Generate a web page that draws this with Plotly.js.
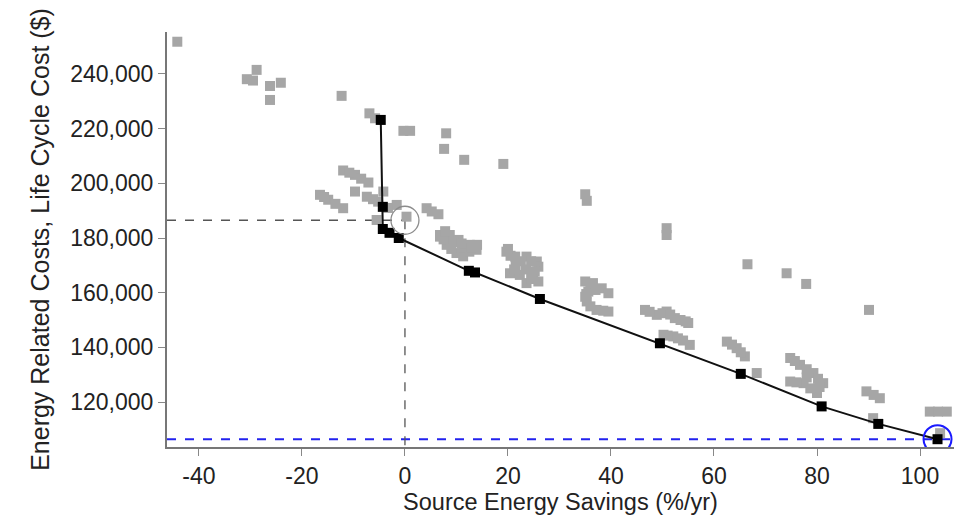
<!DOCTYPE html>
<html>
<head>
<meta charset="utf-8">
<script src="https://cdn.plot.ly/plotly-3.0.1.min.js"></script>
<style>html,body{margin:0;padding:0;background:#fff;}#chart{width:954px;height:523px;}</style>
</head>
<body>
<div id="chart"></div>
<script>
// All design alternatives (gray squares)
const altSavings = [-44.2,-30.7,-28.8,-29.5,-26.2,-24.1,-26.2,-12.3,-6.9,-5.8,-0.3,1.0,8.0,7.6,11.5,19.1,35.0,35.3,50.8,50.8,66.5,74.1,77.9,90.1,
  4.2,6.5,0.3,-12.0,-9.7,-7.1,-16.5,-14.9,-12.0,-13.5,-9.7,-7.4,-5.2,-4.2,-1.6,5.2,-5.5,-3.3,6.8,-10.8,-8.5,-15.7,-6.2,
  6.8,8.7,10.4,12.6,13.9,8.1,10.0,11.3,14.0,7.5,9.5,11.5,12.5,9.0,11.0,13.0,7.8,
  19.7,21.4,23.6,25.6,20.4,22.3,24.9,25.9,23.6,25.9,21.5,20.5,22.5,24.5,21.2,23.5,25.2,24.5,20.0,
  35.0,35.6,38.2,39.5,35.3,37.2,39.5,35.0,36.0,37.0,35.2,36.0,38.5,36.5,
  46.6,48.9,50.8,52.4,55.0,52.1,55.3,50.2,54.0,47.5,50.0,51.5,53.5,54.5,53.0,51.0,
  62.5,64.4,66.0,68.3,63.5,65.2,
  74.8,76.7,79.3,81.2,74.8,77.4,80.0,78.0,75.7,78.0,80.2,76.0,78.7,80.5,
  89.6,92.2,90.9,91.0,
  101.9,105.2,103.9,103.5];
const altCost = [251800,238100,241500,237600,235600,236800,230500,232000,225600,223800,219200,219200,218300,212600,208600,207100,196000,193600,183600,181100,170400,167100,163200,153700,
  190900,188700,187800,204700,203100,200300,195800,194000,190900,192500,197000,195100,193300,197000,192100,189700,186600,191000,180500,203900,201700,195000,194200,
  181100,181100,179300,177500,175700,177500,174500,173300,177500,179500,178500,176500,175000,176000,178000,176500,182500,
  175000,173200,173200,171400,167100,166500,166500,164100,163500,169500,170000,173500,171500,171500,168500,168500,167800,165000,176000,
  164100,160400,161600,159800,156800,153700,153100,158500,162500,161000,159500,155000,153400,163500,
  153700,151900,153100,150700,148900,144000,140900,144600,142500,153000,152500,152000,150000,149500,143300,144300,
  142100,139700,136700,130600,141000,138200,
  136100,133600,130600,126900,127500,126900,123300,129000,135000,132000,128500,127200,125000,125500,
  123900,121400,114100,122600,
  116500,116500,108600,116500];

// Optimal (Pareto) path
const paretoSavings = [-4.7,-4.3,-4.3,-3.0,-1.2,12.4,13.6,26.2,49.5,65.2,80.9,91.9,103.4];
const paretoCost = [223200,191400,183300,181900,180000,168000,167400,157700,141500,130300,118400,112000,106400];

// Baseline and optimum
const baselineSavings = [0];
const baselineCost = [186500];
const optimumSavings = [103.4];
const optimumCost = [106400];

const xTicks = [-40,-20,0,20,40,60,80,100];
const yTicks = [120000,140000,160000,180000,200000,220000,240000];

const xRange = [-46.2, 106.6];
const yRange = [103550, 255360];

const traces = [
  {x: altSavings, y: altCost, type: 'scatter', mode: 'markers',
   marker: {symbol: 'square', size: 10, color: '#a6a6a6'}},
  {x: paretoSavings, y: paretoCost, type: 'scatter', mode: 'lines+markers',
   line: {color: '#111', width: 2}, marker: {symbol: 'square', size: 10, color: '#000'}},
  {x: baselineSavings, y: baselineCost, type: 'scatter', mode: 'markers',
   marker: {symbol: 'circle-open', size: 28, color: '#8c8c8c', line: {width: 1.3}}},
  {x: optimumSavings, y: optimumCost, type: 'scatter', mode: 'markers',
   marker: {symbol: 'circle-open', size: 28, color: '#1a1aff', line: {width: 2}}}
];

const txt = '#222';
const layout = {
  width: 954, height: 523,
  margin: {l: 167, r: 0, t: 32, b: 76},
  paper_bgcolor: '#fff', plot_bgcolor: '#fff',
  showlegend: false,
  font: {family: 'Liberation Sans, Arial, sans-serif', size: 23, color: txt},
  xaxis: {
    range: xRange, tickvals: xTicks, ticktext: xTicks.map(String),
    showgrid: false, zeroline: false, showline: true, linecolor: '#777', linewidth: 2,
    ticks: 'outside', ticklen: 7, tickcolor: '#888', tickwidth: 1,
    tickfont: {size: 23, color: txt},
    title: {text: 'Source Energy Savings (%/yr)', font: {size: 23.5, color: txt}, standoff: 4}
  },
  yaxis: {
    range: yRange, tickvals: yTicks, tickformat: ',',
    showgrid: false, zeroline: false, showline: true, linecolor: '#777', linewidth: 2,
    ticks: 'outside', ticklen: 7, tickcolor: '#888', tickwidth: 1,
    tickfont: {size: 23, color: txt},
    title: {text: 'Energy Related Costs, Life Cycle Cost ($)', font: {size: 25, color: txt}, standoff: 14}
  },
  shapes: [
    {type: 'line', xref: 'paper', yref: 'y', x0: 0, x1: 1, y0: optimumCost[0], y1: optimumCost[0],
     line: {color: '#2222ee', width: 2, dash: 'dash'}, layer: 'below'},
    {type: 'line', xref: 'paper', yref: 'y', x0: 0, y0: baselineCost[0], y1: baselineCost[0],
     x1: (baselineSavings[0] - xRange[0]) / (xRange[1] - xRange[0]),
     line: {color: '#555', width: 1.3, dash: 'dash'}, layer: 'below'},
    {type: 'line', xref: 'x', yref: 'paper', x0: baselineSavings[0], x1: baselineSavings[0], y1: 0,
     y0: (baselineCost[0] - yRange[0]) / (yRange[1] - yRange[0]),
     line: {color: '#555', width: 1.3, dash: 'dash'}, layer: 'below'}
  ]
};

Plotly.newPlot('chart', traces, layout, {displayModeBar: false, staticPlot: true});
</script>
</body>
</html>
